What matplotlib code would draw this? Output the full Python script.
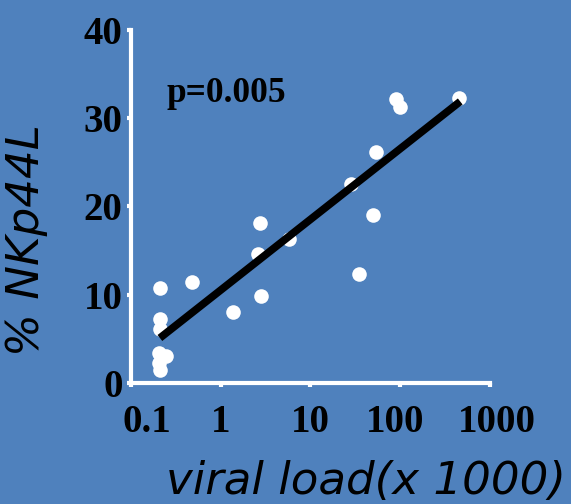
import matplotlib
matplotlib.use("Agg")
import matplotlib.pyplot as plt
import matplotlib.transforms as mtransforms
import numpy as np

# data
viral_load = [0.21, 0.21, 0.21, 0.205, 0.245, 0.205, 0.21, 0.475, 1.38, 2.74,
              2.62, 2.8, 5.8, 28, 35, 50, 54, 89, 100, 454]
nkp44l = [10.8, 7.3, 6.1, 3.4, 3.06, 2.27, 1.47, 11.4, 8.0, 18.1,
          14.6, 9.9, 16.3, 22.6, 12.4, 19.0, 26.2, 32.2, 31.3, 32.3]
fit_x = [0.21, 466]
fit_y = [5.1, 31.9]
x_ticks = [0.1, 1, 10, 100, 1000]
x_ticklabels = ["0.1", "1", "10", "100", "1000"]
y_ticks = [0, 10, 20, 30, 40]
y_ticklabels = ["0", "10", "20", "30", "40"]

# horizontal nudges of the x tick labels (pixels), as placed in the reference
x_label_nudge_px = [16, 0, 0, -5, 7]

bg = "#4F81BD"
fig = plt.figure(figsize=(5.71, 5.04), dpi=100, facecolor=bg)
ax = fig.add_axes([0.2294, 0.2401, 0.6287, 0.7004], facecolor=bg)

ax.scatter(viral_load, nkp44l, s=110, color="white", zorder=3, clip_on=False, linewidths=0)
ax.plot(fit_x, fit_y, color="black", linewidth=5.5, solid_capstyle="butt", zorder=4)

ax.set_xscale("log")
ax.set_xlim(0.1, 1000)
ax.set_ylim(0, 40)
ax.set_xticks(x_ticks)
ax.set_xticklabels(x_ticklabels)
ax.set_yticks(y_ticks)
ax.set_yticklabels(y_ticklabels)
ax.minorticks_off()

for s in ["top", "right"]:
    ax.spines[s].set_visible(False)
for s in ["left", "bottom"]:
    ax.spines[s].set_color("white")
    ax.spines[s].set_linewidth(3)

ax.tick_params(axis="both", colors="white", length=3, width=3)
ax.tick_params(axis="x", pad=12)
ax.tick_params(axis="y", pad=3)
for lab in ax.get_xticklabels() + ax.get_yticklabels():
    lab.set_fontfamily("Liberation Serif")
    lab.set_fontweight("bold")
    lab.set_fontsize(28)
    lab.set_color("black")

for lab, dx in zip(ax.get_xticklabels(), x_label_nudge_px):
    off = mtransforms.ScaledTranslation(dx / 100.0, 0, fig.dpi_scale_trans)
    lab.set_transform(lab.get_transform() + off)

ax.set_xlabel("viral load(x 1000)", fontsize=32.5, style="italic",
              family="DejaVu Sans", color="black")
ax.xaxis.set_label_coords(0.655, -0.219)
ax.set_ylabel("% NKp44L", fontsize=32.5, style="italic",
              family="DejaVu Sans", color="black")
ax.yaxis.set_label_coords(-0.232, 0.405)

ax.text(0.10, 0.797, "p=0.005", transform=ax.transAxes, ha="left", va="baseline",
        fontfamily="Liberation Serif", fontweight="bold", fontsize=25.5, color="black")

fig.savefig("out.png", dpi=100, facecolor=bg)
